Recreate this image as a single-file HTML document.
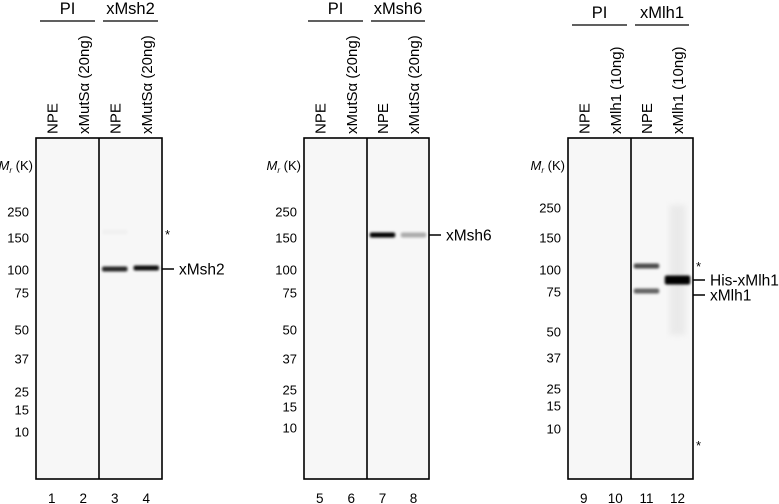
<!DOCTYPE html>
<html><head><meta charset="utf-8"><style>
html,body{margin:0;padding:0;background:#fff;}
svg{display:block;font-family:"Liberation Sans",sans-serif;}
</style></head><body>
<svg id="fig" width="779" height="504" viewBox="0 0 779 504">
<defs>
<filter id="blur1" x="-20%" y="-200%" width="140%" height="500%"><feGaussianBlur stdDeviation="1.2"/></filter>
<filter id="blur3" x="-20%" y="-100%" width="140%" height="300%"><feGaussianBlur stdDeviation="3"/></filter>
</defs>
<g id="root"></g>
</svg>
<script>
const panelLeft=[36,304,568];
const panelDivider=[99,367,631];
const panelRight=[162,429,693];
const headerY=[21,21,25];
const groupLabels=[["PI","xMsh2"],["PI","xMsh6"],["PI","xMlh1"]];
const laneLabels=[["NPE","xMutSα (20ng)","NPE","xMutSα (20ng)"],["NPE","xMutSα (20ng)","NPE","xMutSα (20ng)"],["NPE","xMlh1 (10ng)","NPE","xMlh1 (10ng)"]];
const laneNumbers=[["1","2","3","4"],["5","6","7","8"],["9","10","11","12"]];
const markers=["250","150","100","75","50","37","25","15","10"];
const markerY=[[212,238,270,293,330,359,392,410,432],[212,238,270,293,330,359,390,407,428],[208,238,270,292,332,358,389,406,429]];
// bands: [panel, lane(0-3), y, intensity]
const bands=[[0,2,269,0.85],[0,3,268,0.95],[0,2,232,0.025],[1,2,235,1.0],[1,3,235,0.3],[2,2,266,0.7],[2,2,291,0.6],[2,3,280,1.0]];
const sideLabels=[[0,"xMsh2",269,true],[1,"xMsh6",235,true],[2,"His-xMlh1",280,true],[2,"xMlh1",295,true]];
const stars=[[0,232],[2,264],[2,443]];
const root=document.getElementById('root');
const NS='http://www.w3.org/2000/svg';
function mk(tag,attrs,parent){const e=document.createElementNS(NS,tag);for(const k in attrs)e.setAttribute(k,attrs[k]);(parent||root).appendChild(e);return e;}
const TOP=138,BOT=479;
function laneX(p,l){const a=panelLeft[p],d=panelDivider[p],b=panelRight[p];return l<2?a+(d-a)*(l*2+1)/4:d+(b-d)*((l-2)*2+1)/4;}
for(let p=0;p<3;p++){
  const g=mk('g',{});
  
  
  const bg=mk('rect',{x:panelLeft[p],y:TOP,width:panelRight[p]-panelLeft[p],height:BOT-TOP,fill:'#f7f7f7'},g);
  
  
  if(p===2){const s=mk('rect',{x:laneX(2,3)-8,y:205,width:16,height:130,fill:'#ccc',opacity:0.3,filter:'url(#blur3)'},g);
    }
  for(let i=0;i<2;i++){
    const a=i?panelDivider[p]+4:panelLeft[p]+4,b=i?panelRight[p]-4:panelDivider[p]-4;
    const ln=mk('line',{x1:a,x2:b,y1:headerY[p],y2:headerY[p],stroke:'#000','stroke-width':1.3},g);
    
    const t=mk('text',{x:(a+b)/2,y:headerY[p]-7,'font-size':16.5,'text-anchor':'middle'},g);t.textContent=groupLabels[p][i];
    
  }
  for(let l=0;l<4;l++){
    const x=laneX(p,l);
    const t=mk('text',{transform:`translate(${x+5.5},134) rotate(-90)`,'font-size':15},g);t.textContent=laneLabels[p][l];
    
    const n=mk('text',{x:x,y:503,'font-size':13.5,'text-anchor':'middle'},g);n.textContent=laneNumbers[p][l];
    
  }
  const mr=mk('text',{x:panelLeft[p]-3,y:170,'font-size':13,'text-anchor':'end'},g);
  mr.innerHTML='<tspan font-style="italic">M</tspan><tspan font-size="8" dy="3" font-style="italic">r</tspan><tspan dy="-3"> (K)</tspan>';
  
  markers.forEach((m,i)=>{const t=mk('text',{x:panelLeft[p]-7,y:markerY[p][i]+4.5,'font-size':13,'text-anchor':'end'},g);t.textContent=m;
    });
}
bands.forEach(b=>{const [p,l,y,v]=b;const x=laneX(p,l);const w=(panelDivider[p]-panelLeft[p])/2-6;
  const h=(p===2&&l===3)?9:5;
  const r=mk('rect',{x:x-w/2,y:y-h/2,width:w,height:h,rx:2,fill:'#000',opacity:v,filter:'url(#blur1)'});
  });
for(let p=0;p<3;p++){
  const g=mk('g',{fill:'none',stroke:'#000','stroke-width':1.6});
  
  mk('rect',{x:panelLeft[p],y:TOP,width:panelRight[p]-panelLeft[p],height:BOT-TOP},g);
  mk('line',{x1:panelDivider[p],x2:panelDivider[p],y1:TOP,y2:BOT},g);
}
sideLabels.forEach(s=>{const [p,txt,y]=s;const x=panelRight[p];
  const ln=mk('line',{x1:x,x2:x+12,y1:y,y2:y,stroke:'#000','stroke-width':1.5});
  
  const t=mk('text',{x:x+17,y:y+5.5,'font-size':15.5});t.textContent=txt;
  });
stars.forEach(s=>{const t=mk('text',{x:panelRight[s[0]]+3,y:s[1]+7,'font-size':13});t.textContent='*';
  });
</script>
</body></html>
